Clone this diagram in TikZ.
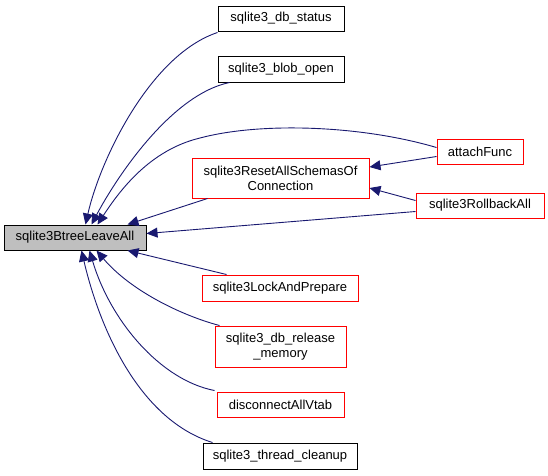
\documentclass[tikz,border=0pt]{standalone}
\usepackage{fontspec}
\setmainfont{Liberation Sans}
\usetikzlibrary{arrows.meta,calc}
\definecolor{edgeblue}{HTML}{191970}
\definecolor{leafgray}{HTML}{BFBFBF}
\begin{document}
\begin{tikzpicture}[x=1pt,y=-1pt,
  box/.style={draw=black,line width=1pt,fill=white,inner sep=0pt,align=center,font=\fontsize{13}{15}\selectfont},
  redbox/.style={box,draw=red},
  edge/.style={draw=edgeblue,line width=0.9pt,{Triangle[length=11pt,width=10pt]}-}]
\useasboundingbox (0,0) rectangle (548,475);
\node[box,fill=leafgray,minimum width=142pt,minimum height=25pt] (leave) at (75,237.5) {sqlite3BtreeLeaveAll};
\node[box,minimum width=126pt,minimum height=25pt] (dbstatus) at (281,18.5) {sqlite3\_db\_status};
\node[box,minimum width=126pt,minimum height=26pt] (blob) at (281,69) {sqlite3\_blob\_open};
\node[redbox,minimum width=177pt,minimum height=40pt] (reset) at (280.5,178) {sqlite3ResetAllSchemasOf\\Connection};
\node[redbox,minimum width=86pt,minimum height=25pt] (attach) at (480,151.5) {attachFunc};
\node[redbox,minimum width=128pt,minimum height=25pt] (rollback) at (480,205.5) {sqlite3RollbackAll};
\node[redbox,minimum width=156pt,minimum height=26pt] (lock) at (280,288) {sqlite3LockAndPrepare};
\node[redbox,minimum width=131pt,minimum height=41pt] (release) at (280.5,346.5) {sqlite3\_db\_release\\\_memory};
\node[redbox,minimum width=127pt,minimum height=25pt] (disconnect) at (280.5,404.5) {disconnectAllVtab};
\node[box,minimum width=154pt,minimum height=26pt] (thread) at (280,456) {sqlite3\_thread\_cleanup};

% edges into sqlite3BtreeLeaveAll (top side)
\draw[edge] ([xshift=82pt]leave.north west) .. controls (100,160) and (150,55) .. ([yshift=-1pt]dbstatus.south west);
\draw[edge] ([xshift=88pt]leave.north west) .. controls (115,180) and (170,95) .. ([xshift=12pt]blob.south west);
\draw[edge] ([xshift=94pt]leave.north west) .. controls (120,190) and (150,150) .. (200,138) .. controls (260,122) and (360,125) .. ([yshift=4pt]attach.west);
\draw[edge] ([xshift=124pt]leave.north west) -- ([xshift=16pt]reset.south west);
\draw[edge] ([yshift=4pt]leave.east) -- ([yshift=-6pt]rollback.west);
% edges into sqlite3BtreeLeaveAll (bottom side)
\draw[edge] ([xshift=124pt]leave.south west) -- ([xshift=25pt]lock.north west);
\draw[edge] ([xshift=93pt]leave.south west) .. controls (130,290) and (180,315) .. ([xshift=5pt]release.north west);
\draw[edge] ([xshift=86pt]leave.south west) .. controls (110,320) and (160,380) .. ([xshift=-2pt,yshift=1pt]disconnect.north west);
\draw[edge] ([xshift=78pt]leave.south west) .. controls (100,330) and (140,420) .. ([xshift=10pt]thread.north west);
% edges into sqlite3ResetAllSchemasOfConnection
\draw[edge] ([yshift=11pt]reset.east) -- ([yshift=-5pt]attach.west);
\draw[edge] ([yshift=-10pt]reset.east) -- ([yshift=5pt]rollback.west);
\end{tikzpicture}
\end{document}
